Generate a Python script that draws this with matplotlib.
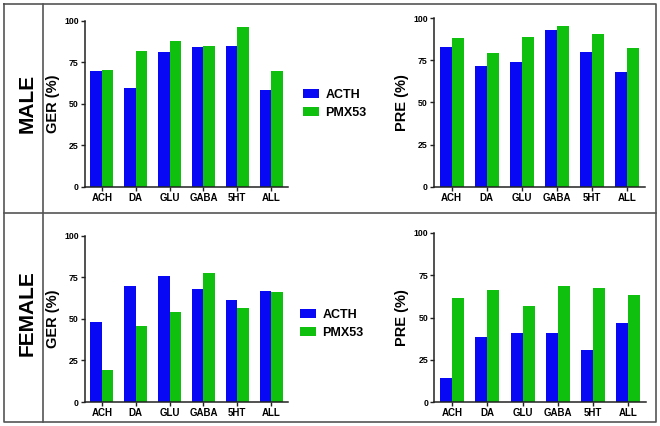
import matplotlib
matplotlib.use("Agg")
import matplotlib.pyplot as plt
from matplotlib.lines import Line2D
import numpy as np

plt.rcParams['font.family'] = ['Liberation Sans', 'DejaVu Sans']
plt.rcParams['font.weight'] = 'bold'

categories = ["ACH", "DA", "GLU", "GABA", "5HT", "ALL"]
series_names = ["ACTH", "PMX53"]

male_ger_acth = [69.5, 59.5, 81, 84, 85, 58]
male_ger_pmx53 = [70.5, 81.5, 88, 84.5, 96, 69.5]
male_pre_acth = [82.8, 71.7, 74, 93, 79.8, 68]
male_pre_pmx53 = [88.5, 79.4, 88.7, 95.4, 90.9, 82.4]
female_ger_acth = [47.9, 70, 76, 68, 61.5, 67]
female_ger_pmx53 = [19.2, 46, 54, 77.4, 56.5, 66]
female_pre_acth = [14.2, 38.3, 40.8, 40.8, 30.6, 46.7]
female_pre_pmx53 = [61.3, 66.5, 57, 68.4, 67.5, 63.3]

yticks = [0, 25, 50, 75, 100]
row_labels = ["MALE", "FEMALE"]

BLUE = '#0808f4'
GREEN = '#0fc00f'

W, H = 660, 426
fig = plt.figure(figsize=(W / 100, H / 100), dpi=100)


def px_axes(x0, x1, ytop, ybot):
    return fig.add_axes([x0 / W, 1 - ybot / H, (x1 - x0) / W, (ybot - ytop) / H])


def draw_panel(ax, a, b, ylabel):
    x = np.arange(len(categories))
    bw = 0.34
    b1 = ax.bar(x - bw / 2, a, bw, color=BLUE, linewidth=0)
    b2 = ax.bar(x + bw / 2, b, bw, color=GREEN, linewidth=0)
    ax.set_xlim(-0.5, len(categories) - 0.5)
    ax.set_ylim(0, 100)
    ax.set_yticks(yticks)
    ax.set_yticklabels([str(t) for t in yticks], fontsize=6.3, fontweight='bold')
    ax.set_xticks(x)
    ax.set_xticklabels(categories, fontsize=7, fontweight='bold')
    ax.spines['top'].set_visible(False)
    ax.spines['right'].set_visible(False)
    for s in ('left', 'bottom'):
        ax.spines[s].set_linewidth(1.1)
        ax.spines[s].set_color('#222222')
    ax.tick_params(axis='both', length=3, width=1.0, color='#222222', pad=1.5)
    ax.set_ylabel(ylabel, fontsize=10.5, fontweight='bold', labelpad=3)
    return b1, b2


ax1 = px_axes(85, 288, 20.7, 186.7)
h = draw_panel(ax1, male_ger_acth, male_ger_pmx53, "GER (%)")
ax2 = px_axes(434, 645, 18.3, 186.7)
draw_panel(ax2, male_pre_acth, male_pre_pmx53, "PRE (%)")
ax3 = px_axes(85, 288, 235.7, 402)
h3 = draw_panel(ax3, female_ger_acth, female_ger_pmx53, "GER (%)")
ax4 = px_axes(434.3, 646, 233, 402)
draw_panel(ax4, female_pre_acth, female_pre_pmx53, "PRE (%)")

leg_kw = dict(loc='upper left', frameon=False, prop={'size': 9, 'weight': 'bold'},
              handlelength=1.3, handleheight=0.75, borderpad=0, borderaxespad=0,
              handletextpad=0.5, labelspacing=0.45)
fig.legend(h, series_names, bbox_to_anchor=(303 / W, 1 - 89 / H), **leg_kw)
fig.legend(h3, series_names, bbox_to_anchor=(300 / W, 1 - 309 / H), **leg_kw)

# frame lines
fc = '#555555'
flw = 1.2
def fline(xs, ys):
    fig.add_artist(Line2D([x / W for x in xs], [1 - y / H for y in ys],
                          color=fc, linewidth=flw))

fline([3.5, 655.5, 655.5, 3.5, 3.5], [3.5, 3.5, 421.5, 421.5, 3.5])
fline([43, 43], [3.5, 421.5])
fline([3.5, 655.5], [213, 213])

fig.text(27 / W, 1 - 103 / H, row_labels[0], rotation=90, ha='center', va='center',
         fontsize=15, fontweight='bold')
fig.text(27 / W, 1 - 313 / H, row_labels[1], rotation=90, ha='center', va='center',
         fontsize=15, fontweight='bold')

fig.savefig("out.png", dpi=100)
